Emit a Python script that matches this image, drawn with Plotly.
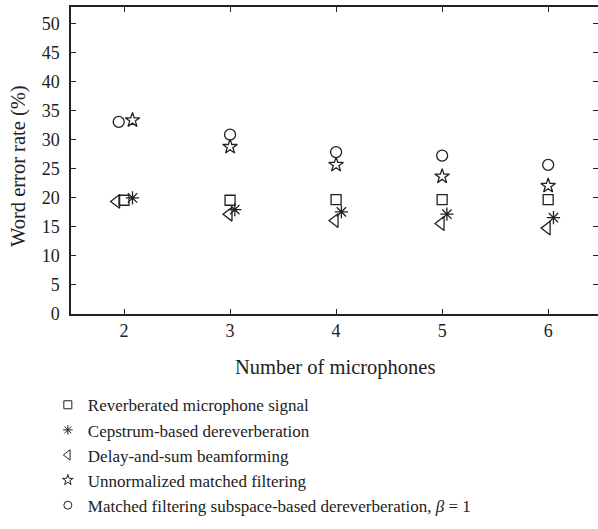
import plotly.graph_objects as go

# Data
series_names = [
    "Reverberated microphone signal",
    "Cepstrum-based dereverberation",
    "Delay-and-sum beamforming",
    "Unnormalized matched filtering",
    "Matched filtering subspace-based dereverberation, <i>β</i> = 1",
]
x_reverb = [2, 3, 4, 5, 6]
y_reverb = [19.6, 19.6, 19.7, 19.7, 19.7]
x_cep = [2.08, 3.045, 4.05, 5.045, 6.05]
y_cep = [20.0, 18.0, 17.6, 17.2, 16.6]
x_das = [1.93, 2.99, 3.99, 4.99, 5.99]
y_das = [19.4, 17.2, 16.1, 15.6, 14.8]
x_umf = [2.08, 3, 4, 5, 6]
y_umf = [33.4, 28.8, 25.7, 23.7, 22.1]
x_mfs = [1.95, 3, 4, 5, 6]
y_mfs = [33.1, 30.9, 27.9, 27.3, 25.7]

x_ticks = [2, 3, 4, 5, 6]
y_ticks = [0, 5, 10, 15, 20, 25, 30, 35, 40, 45, 50]

INK = "#222222"
FONT = "Liberation Serif"

styles = [
    dict(symbol="square-open", size=10, lsize=8),
    dict(symbol="asterisk-open", size=11, lsize=8),
    dict(symbol="triangle-left-open", size=12, lsize=9),
    dict(symbol="star-open", size=11, lsize=8),
    dict(symbol="circle-open", size=11, lsize=8),
]
xs = [x_reverb, x_cep, x_das, x_umf, x_mfs]
ys = [y_reverb, y_cep, y_das, y_umf, y_mfs]

fig = go.Figure()
for name, x, y, st in zip(series_names, xs, ys, styles):
    fig.add_trace(go.Scatter(
        x=x, y=y, mode="markers", name=name, showlegend=False,
        marker=dict(symbol=st["symbol"], size=st["size"], color=INK,
                    line=dict(color=INK, width=1.3)),
    ))
# legend entries with smaller symbols, as in the reference
for name, st in zip(series_names, styles):
    fig.add_trace(go.Scatter(
        x=[None], y=[None], mode="markers", name=name, showlegend=True,
        marker=dict(symbol=st["symbol"], size=st["lsize"], color=INK,
                    line=dict(color=INK, width=1)),
    ))

axis_common = dict(
    showline=True, linecolor=INK, linewidth=1.5, mirror="ticks",
    ticks="inside", ticklen=5, tickwidth=1.3, tickcolor=INK,
    showgrid=False, zeroline=False,
    tickfont=dict(family=FONT, size=18, color=INK),
)

fig.update_layout(
    width=598, height=529,
    margin=dict(l=71, r=0, t=7, b=215, autoexpand=False),
    plot_bgcolor="white", paper_bgcolor="white",
    font=dict(family=FONT, color=INK),
    xaxis=dict(range=[1.5, 6.47], tickvals=x_ticks, **axis_common),
    yaxis=dict(range=[0, 52.9], tickvals=y_ticks, ticklabelstandoff=6, **axis_common),
    showlegend=True,
    legend=dict(
        xref="container", yref="container", x=0.08, y=0.268,
        xanchor="left", yanchor="top",
        font=dict(family=FONT, size=17, color=INK),
        bgcolor="rgba(0,0,0,0)", tracegroupgap=0,
    ),
    annotations=[
        dict(text="Number of microphones", xref="paper", yref="paper",
             x=0.5, y=-0.173, xanchor="center", yanchor="middle",
             showarrow=False, font=dict(family=FONT, size=20.5, color=INK)),
        dict(text="Word error rate (%)", xref="paper", yref="paper",
             x=-0.1006, y=0.482, xanchor="center", yanchor="middle",
             textangle=-90, showarrow=False,
             font=dict(family=FONT, size=20.5, color=INK)),
    ],
)

fig.write_html("out.html")
